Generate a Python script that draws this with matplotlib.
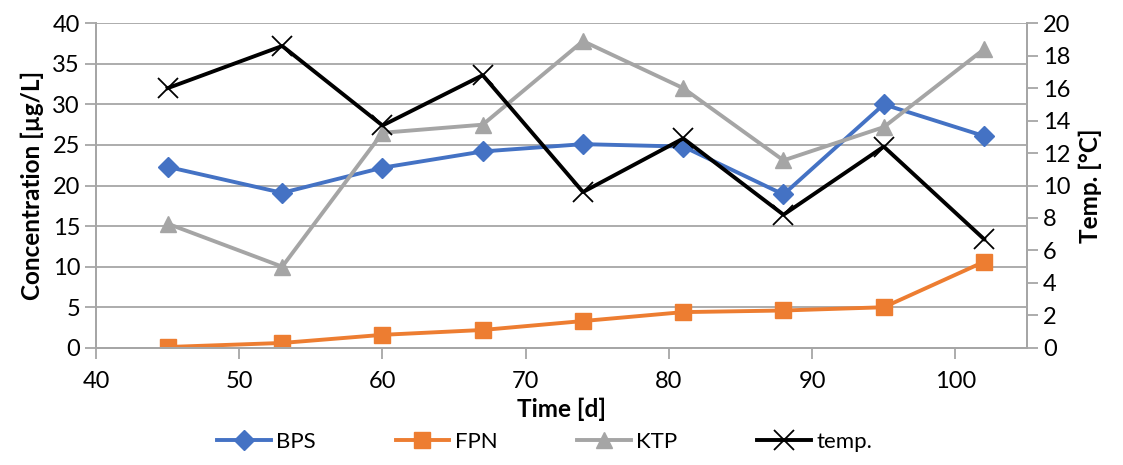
import matplotlib
matplotlib.use("Agg")
import matplotlib.pyplot as plt

plt.rcParams['font.family'] = ['Lato', 'DejaVu Sans']

# sampling days
days = [45, 53, 60, 67, 74, 81, 88, 95, 102]
# concentrations [ug/L]
bps = [22.3, 19.1, 22.2, 24.2, 25.1, 24.8, 18.9, 30.0, 26.1]
fpn = [0.1, 0.6, 1.6, 2.2, 3.3, 4.4, 4.6, 5.0, 10.6]
ktp = [15.3, 10.0, 26.5, 27.5, 37.8, 32.0, 23.1, 27.2, 36.8]
# temperature [C]
temp = [16.0, 18.6, 13.7, 16.8, 9.6, 12.9, 8.2, 12.4, 6.7]

grey = '#a6a6a6'

fig = plt.figure(figsize=(11.23, 4.65), dpi=100)
ax = fig.add_axes([0.0855, 0.252, 0.829, 0.698])
ax2 = ax.twinx()

l1, = ax.plot(days, bps, color='#4472c4', lw=2.8, marker='D', ms=10, label='BPS')
l2, = ax.plot(days, fpn, color='#ed7d31', lw=2.8, marker='s', ms=12, label='FPN')
l3, = ax.plot(days, ktp, color='#a5a5a5', lw=2.8, marker='^', ms=12, label='KTP')
l4, = ax2.plot(days, temp, color='black', lw=2.8, marker='x', ms=14, mew=1.3, label='temp.')

ax.set_xlim(40, 105)
ax.set_ylim(0, 40)
ax2.set_ylim(0, 20)
ax.set_xticks(range(40, 101, 10))
ax.set_yticks(range(0, 41, 5))
ax2.set_yticks(range(0, 21, 2))

ax.grid(axis='y', color=grey, lw=1.3)
ax.set_axisbelow(True)

for a in (ax, ax2):
    a.spines['top'].set_visible(False)
    for s in ('left', 'bottom', 'right'):
        a.spines[s].set_color(grey)
        a.spines[s].set_linewidth(1.3)
    a.tick_params(colors=grey, labelcolor='black', labelsize=17, length=8, width=1.3)

ax.tick_params(axis='x', pad=9)
ax.set_xlabel('Time [d]', fontsize=17.5, fontweight='bold', labelpad=4)
ax.set_ylabel('Concentration [µg/L]', fontsize=17.5, fontweight='bold', labelpad=6)
ax2.set_ylabel('Temp. [°C]', fontsize=17.5, fontweight='bold', labelpad=6)

fig.legend(handles=[l1, l2, l3, l4], loc='lower center', bbox_to_anchor=(0.485, -0.015),
           ncol=4, frameon=False, fontsize=16, handlelength=2.4, columnspacing=3.6,
           handletextpad=0.25)

fig.savefig('out.png', dpi=100)
